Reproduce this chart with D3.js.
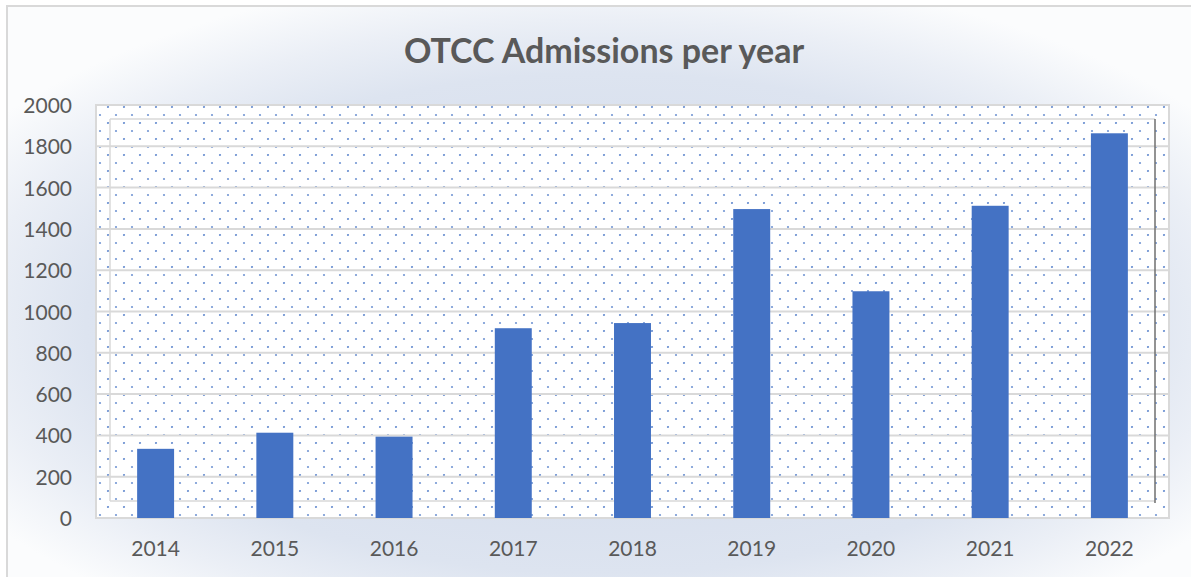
<!DOCTYPE html>
<html lang="en">
<head>
<meta charset="UTF-8">
<title>OTCC Admissions per year</title>
<script src="https://d3js.org/d3.v7.min.js"></script>
<style>
  body { margin: 0; background: #fff; font-family: Lato, "Open Sans", sans-serif; }
  .tick text { fill: #595959; }
</style>
</head>
<body>
<div id="chart"></div>
<script>
  // values
  const years = ["2014", "2015", "2016", "2017", "2018", "2019", "2020", "2021", "2022"];
  const admissions = [335, 413, 394, 919, 944, 1496, 1098, 1512, 1863];
  const yTicks = [0, 200, 400, 600, 800, 1000, 1200, 1400, 1600, 1800, 2000];

  const W = 1191, H = 577;
  const plot = {left: 96, right: 1169, top: 105, bottom: 518};
  const depth = 14; // back-wall offset

  const svg = d3.select("#chart").append("svg")
    .attr("width", W)
    .attr("height", H);

  const defs = svg.append("defs");

  // chart background gradient (darker toward the middle, light at edges)
  const bg = defs.append("radialGradient")
    .attr("id", "bgGrad")
    .attr("cx", "0.5").attr("cy", "0.55").attr("r", "0.62");
  bg.append("stop").attr("offset", "0").attr("stop-color", "#cfd8ea");
  bg.append("stop").attr("offset", "0.7").attr("stop-color", "#dde4f0");
  bg.append("stop").attr("offset", "0.85").attr("stop-color", "#ebeff6");
  bg.append("stop").attr("offset", "1").attr("stop-color", "#fbfcfd");

  // dotted fill of the plot area
  const pat = defs.append("pattern")
    .attr("id", "dots")
    .attr("patternUnits", "userSpaceOnUse")
    .attr("x", 91).attr("y", 106)
    .attr("width", 16).attr("height", 16);
  pat.append("rect").attr("width", 16).attr("height", 16).attr("fill", "#fff");
  [[1, 1], [9, 9], [17, 1], [1, 17], [17, 17]].forEach(p => {
    pat.append("circle")
      .attr("cx", p[0]).attr("cy", p[1])
      .attr("r", 1.1)
      .attr("fill", "#4472c4")
      .attr("fill-opacity", 0.75);
  });

  // chart area
  svg.append("rect")
    .attr("x", 7).attr("y", 6)
    .attr("width", W).attr("height", H)
    .attr("fill", "url(#bgGrad)")
    .attr("stroke", "#d9d9d9")
    .attr("stroke-width", 2);

  const x = d3.scaleBand()
    .domain(years)
    .range([plot.left, plot.right])
    .paddingInner(0.69)
    .paddingOuter(0.345);

  const y = d3.scaleLinear()
    .domain([0, 2000])
    .range([plot.bottom, plot.top]);

  // plot area fill
  svg.append("rect")
    .attr("x", plot.left).attr("y", plot.top)
    .attr("width", plot.right - plot.left)
    .attr("height", plot.bottom - plot.top)
    .attr("fill", "url(#dots)");

  // back wall lines
  const wall = svg.append("g")
    .attr("fill", "none")
    .attr("stroke", "#d9d9d9")
    .attr("stroke-width", 1.5);
  wall.append("line")
    .attr("x1", plot.left + depth).attr("x2", plot.left + depth)
    .attr("y1", plot.top + depth).attr("y2", plot.bottom - 17);
  wall.append("line")
    .attr("x1", plot.left + depth).attr("x2", plot.right - depth)
    .attr("y1", plot.top + depth).attr("y2", plot.top + depth);
  wall.append("line")
    .attr("x1", plot.left + depth).attr("x2", plot.right - depth)
    .attr("y1", plot.bottom - 17).attr("y2", plot.bottom - 17);

  // horizontal grid lines
  svg.append("g")
    .attr("class", "grid")
    .selectAll("line")
    .data(yTicks.filter(t => t > 0 && t < 2000))
    .join("line")
    .attr("x1", plot.left).attr("x2", plot.right)
    .attr("y1", d => y(d)).attr("y2", d => y(d))
    .attr("stroke", "#d9d9d9")
    .attr("stroke-width", 2);

  // dark right wall edge
  svg.append("line")
    .attr("x1", plot.right - depth).attr("x2", plot.right - depth)
    .attr("y1", plot.top + depth).attr("y2", plot.bottom - 15)
    .attr("stroke", "#6f6f6f")
    .attr("stroke-width", 1.5);

  // outer plot border
  svg.append("rect")
    .attr("x", plot.left).attr("y", plot.top)
    .attr("width", plot.right - plot.left)
    .attr("height", plot.bottom - plot.top)
    .attr("fill", "none")
    .attr("stroke", "#d9d9d9")
    .attr("stroke-width", 2);

  // bars
  svg.append("g")
    .selectAll("rect")
    .data(admissions)
    .join("rect")
    .attr("x", (d, i) => x(years[i]))
    .attr("y", d => y(d))
    .attr("width", x.bandwidth())
    .attr("height", d => y(0) - y(d))
    .attr("fill", "#4472c4");

  // y axis labels
  const yAxis = svg.append("g")
    .attr("transform", `translate(${plot.left - 12},0)`)
    .call(d3.axisLeft(y).tickValues(yTicks).tickSize(0).tickPadding(12).tickFormat(d3.format("d")));
  yAxis.select(".domain").remove();
  yAxis.selectAll("text")
    .attr("dy", "0.36em")
    .style("font-size", "21px")
    .style("font-family", "Lato, sans-serif");

  // x axis labels
  const xAxis = svg.append("g")
    .attr("transform", `translate(0,${plot.bottom})`)
    .call(d3.axisBottom(x).tickSize(0).tickPadding(23));
  xAxis.select(".domain").remove();
  xAxis.selectAll("text")
    .style("font-size", "21px")
    .style("font-family", "Lato, sans-serif");

  // title
  svg.append("text")
    .attr("x", 604)
    .attr("y", 63)
    .attr("text-anchor", "middle")
    .style("font-size", "34px")
    .style("font-weight", "bold")
    .style("font-family", "Lato, sans-serif")
    .attr("fill", "#595959")
    .text("OTCC Admissions per year");
</script>
</body>
</html>
